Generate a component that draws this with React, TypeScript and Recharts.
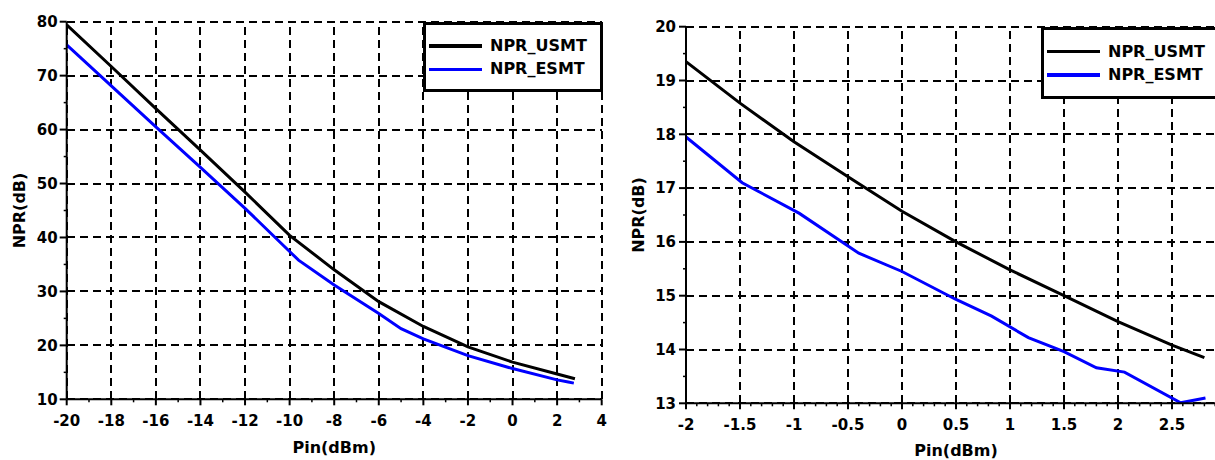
import React from 'react';
import { LineChart, Line, XAxis, YAxis, ReferenceLine, Legend, Label } from 'recharts';

// ---------- Left panel data ----------
const leftUsmtPin = [-20, -18, -16, -14, -12, -10, -8, -6, -4, -2, 0, 2, 2.8];
const leftUsmtNpr = [79.4, 71.7, 63.9, 56.2, 48.4, 40.4, 34.0, 28.1, 23.5, 19.7, 16.9, 14.7, 13.8];
const leftEsmtPin = [-20, -18, -16, -14, -12, -10, -9.6, -8, -6, -5, -4, -2, 0, 2, 2.5, 2.75];
const leftEsmtNpr = [75.7, 68.1, 60.5, 53.0, 45.4, 37.4, 35.8, 31.2, 25.9, 23.1, 21.2, 18.1, 15.7, 13.6, 13.2, 13.0];

// ---------- Right panel data ----------
const rightUsmtPin = [-2, -1.5, -1, -0.5, 0, 0.5, 1, 1.5, 2, 2.5, 2.8];
const rightUsmtNpr = [19.35, 18.58, 17.86, 17.21, 16.57, 16.0, 15.48, 15.0, 14.52, 14.08, 13.85];
const rightEsmtPin = [-2, -1.48, -0.95, -0.4, 0, 0.5, 0.83, 1.17, 1.5, 1.8, 2.06, 2.58, 2.81];
const rightEsmtNpr = [17.95, 17.1, 16.53, 15.79, 15.45, 14.93, 14.62, 14.22, 13.96, 13.66, 13.58, 13.01, 13.1];

// ---------- Ticks ----------
const leftXMajor = [-20, -18, -16, -14, -12, -10, -8, -6, -4, -2, 0, 2, 4];
const leftXMinor = [-19, -17, -15, -13, -11, -9, -7, -5, -3, -1, 1, 3];
const leftYMajor = [10, 20, 30, 40, 50, 60, 70, 80];
const leftYMinor = [15, 25, 35, 45, 55, 65, 75];

const rightXMajor = [-2, -1.5, -1, -0.5, 0, 0.5, 1, 1.5, 2, 2.5];
const rightXMinor = [
  -1.9, -1.8, -1.7, -1.6, -1.4, -1.3, -1.2, -1.1, -0.9, -0.8, -0.7, -0.6,
  -0.4, -0.3, -0.2, -0.1, 0.1, 0.2, 0.3, 0.4, 0.6, 0.7, 0.8, 0.9,
  1.1, 1.2, 1.3, 1.4, 1.6, 1.7, 1.8, 1.9, 2.1, 2.2, 2.3, 2.4, 2.6, 2.7, 2.8, 2.9,
];
const rightYMajor = [13, 14, 15, 16, 17, 18, 19, 20];
const rightYMinor = [13.5, 14.5, 15.5, 16.5, 17.5, 18.5, 19.5];

const SERIES_NAMES = ['NPR_USMT', 'NPR_ESMT'];
const SERIES_COLORS = ['#000000', '#0000ff'];
const X_LABEL = 'Pin(dBm)';
const Y_LABEL = 'NPR(dB)';

const FONT = '"DejaVu Sans", Verdana, sans-serif';

const toPoints = (xs: number[], ys: number[]) => xs.map((x, i) => ({ pin: x, npr: ys[i] }));

const isMajor = (v: number, majors: number[]) => majors.some((m) => Math.abs(m - v) < 1e-9);

const X_TICK_SIZE = 6;
const X_TICK_MARGIN = 10;

const XTick = (props: any) => {
  const { x, y, payload, majors } = props;
  const v = payload.value;
  const major = isMajor(v, majors);
  const axisY = y - X_TICK_SIZE - X_TICK_MARGIN;
  return (
    <g>
      <line x1={x} x2={x} y1={axisY} y2={axisY + (major ? 6 : 3)} stroke="#000" strokeWidth={major ? 2 : 1.5} />
      {major && (
        <text x={x} y={y} dy="0.71em" textAnchor="middle" fill="#000" fontSize={15} fontWeight="bold" fontFamily={FONT}>
          {String(v)}
        </text>
      )}
    </g>
  );
};

const Y_TICK_SIZE = 7;

const YTick = (props: any) => {
  const { x, y, payload, majors, margin } = props;
  const v = payload.value;
  const major = isMajor(v, majors);
  const axisX = x + Y_TICK_SIZE + margin;
  return (
    <g>
      <line x1={axisX} x2={axisX - (major ? 7 : 3)} y1={y} y2={y} stroke="#000" strokeWidth={major ? 2 : 1.5} />
      {major && (
        <text x={x} y={y} dy="0.355em" textAnchor="end" fill="#000" fontSize={15} fontWeight="bold" fontFamily={FONT}>
          {String(v)}
        </text>
      )}
    </g>
  );
};

const LegendBox = ({ payload, w, h, firstY, stepY }: any) => {
  const items = [...(payload || [])].sort(
    (a: any, b: any) => SERIES_NAMES.indexOf(a.value) - SERIES_NAMES.indexOf(b.value)
  );
  return (
    <div
      style={{
        width: w,
        height: h,
        boxSizing: 'border-box',
        border: '3px solid #000',
        background: '#fff',
        position: 'relative',
      }}
    >
      {items.map((e: any, i: number) => (
        <div
          key={i}
          style={{
            position: 'absolute',
            left: 2.5,
            top: firstY + i * stepY - 10,
            height: 20,
            display: 'flex',
            alignItems: 'center',
            whiteSpace: 'nowrap',
          }}
        >
          <div style={{ width: 53.5, height: 3.5, background: e.color }} />
          <span style={{ marginLeft: 8, fontFamily: FONT, fontWeight: 'bold', fontSize: 16, color: '#000', lineHeight: '20px' }}>
            {e.value}
          </span>
        </div>
      ))}
    </div>
  );
};

type PanelProps = {
  margin: { top: number; right: number; bottom: number; left: number };
  yAxisWidth: number;
  xAxisHeight: number;
  xDomain: [number, number];
  yDomain: [number, number];
  xMajor: number[];
  xMinor: number[];
  yMajor: number[];
  yMinor: number[];
  usmt: { pin: number; npr: number }[];
  esmt: { pin: number; npr: number }[];
  legend: { left: number; top: number; width: number; height: number; firstY: number; stepY: number };
  yTickMargin: number;
  xLabelOffset: number;
  yLabelX: number;
};

const gridStyle = {
  stroke: '#000',
  strokeWidth: 2,
  strokeDasharray: '8 5',
  shapeRendering: 'crispEdges',
};

const Panel = (p: PanelProps) => {
  const xTicks = [...p.xMajor, ...p.xMinor].sort((a, b) => a - b);
  const yTicks = [...p.yMajor, ...p.yMinor].sort((a, b) => a - b);
  return (
    <LineChart width={620} height={460} margin={p.margin}>
      {p.xMajor.map((v) => (
        <ReferenceLine key={`gx${v}`} x={v} {...(gridStyle as any)} zIndex={-100} />
      ))}
      {p.yMajor.map((v) => (
        <ReferenceLine key={`gy${v}`} y={v} {...(gridStyle as any)} zIndex={-100} />
      ))}
      <XAxis
        type="number"
        dataKey="pin"
        domain={p.xDomain}
        ticks={xTicks}
        interval={0}
        allowDataOverflow
        height={p.xAxisHeight}
        axisLine={{ stroke: '#000', strokeWidth: 2 }}
        tickLine={{ stroke: 'none' }}
        tickSize={X_TICK_SIZE}
        tickMargin={X_TICK_MARGIN}
        tick={(tp: any) => <XTick {...tp} majors={p.xMajor} />}
      >
        <Label
          value={X_LABEL}
          position="insideBottom"
          offset={p.xLabelOffset}
          fill="#000"
          fontSize={16}
          fontWeight="bold"
          fontFamily={FONT}
        />
      </XAxis>
      <YAxis
        type="number"
        domain={p.yDomain}
        ticks={yTicks}
        interval={0}
        allowDataOverflow
        width={p.yAxisWidth}
        axisLine={{ stroke: '#000', strokeWidth: 2 }}
        tickLine={{ stroke: 'none' }}
        tickSize={Y_TICK_SIZE}
        tickMargin={p.yTickMargin}
        tick={(tp: any) => <YTick {...tp} majors={p.yMajor} margin={p.yTickMargin} />}
      >
        <Label
          content={(lp: any) => {
            const vb = lp.viewBox || { x: 0, y: 0, width: 0, height: 0 };
            const cy = vb.y + vb.height / 2;
            const cx = p.yLabelX;
            return (
              <text
                x={cx}
                y={cy}
                transform={`rotate(-90, ${cx}, ${cy})`}
                textAnchor="middle"
                fill="#000"
                fontSize={16}
                fontWeight="bold"
                fontFamily={FONT}
              >
                {Y_LABEL}
              </text>
            );
          }}
        />
      </YAxis>
      <Legend
        layout="vertical"
        align="center"
        verticalAlign="middle"
        wrapperStyle={{ left: p.legend.left, top: p.legend.top, width: p.legend.width, height: p.legend.height }}
        content={(lp: any) => (
          <LegendBox
            payload={lp.payload}
            w={p.legend.width}
            h={p.legend.height}
            firstY={p.legend.firstY}
            stepY={p.legend.stepY}
          />
        )}
      />
      <Line
        data={p.usmt}
        dataKey="npr"
        name={SERIES_NAMES[0]}
        stroke={SERIES_COLORS[0]}
        strokeWidth={3}
        dot={false}
        activeDot={false}
        type="linear"
        isAnimationActive={false}
      />
      <Line
        data={p.esmt}
        dataKey="npr"
        name={SERIES_NAMES[1]}
        stroke={SERIES_COLORS[1]}
        strokeWidth={3}
        dot={false}
        activeDot={false}
        type="linear"
        isAnimationActive={false}
      />
    </LineChart>
  );
};

export default function App() {
  return (
    <div
      style={{
        position: 'absolute',
        left: 0,
        top: 0,
        width: 1215,
        height: 460,
        overflow: 'hidden',
        background: '#fff',
        fontFamily: FONT,
      }}
    >
      <div style={{ position: 'absolute', left: 0, top: 0 }}>
        <Panel
          margin={{ top: 21.7, right: 18.3, bottom: 0, left: 0 }}
          yAxisWidth={66.7}
          xAxisHeight={60.7}
          xDomain={[-20, 4]}
          yDomain={[10, 80]}
          xMajor={leftXMajor}
          xMinor={leftXMinor}
          yMajor={leftYMajor}
          yMinor={leftYMinor}
          usmt={toPoints(leftUsmtPin, leftUsmtNpr)}
          esmt={toPoints(leftEsmtPin, leftEsmtNpr)}
          legend={{ left: 423, top: 22, width: 180, height: 70, firstY: 21, stepY: 23.3 }}
          yTickMargin={2}
          xLabelOffset={7}
          yLabelX={25}
        />
      </div>
      <div style={{ position: 'absolute', left: 620, top: 0 }}>
        <Panel
          margin={{ top: 26.7, right: 14, bottom: 0, left: 0 }}
          yAxisWidth={66}
          xAxisHeight={56.7}
          xDomain={[-2, 3]}
          yDomain={[13, 20]}
          xMajor={rightXMajor}
          xMinor={rightXMinor}
          yMajor={rightYMajor}
          yMinor={rightYMinor}
          usmt={toPoints(rightUsmtPin, rightUsmtNpr)}
          esmt={toPoints(rightEsmtPin, rightEsmtNpr)}
          legend={{ left: 421, top: 26.7, width: 220, height: 72, firstY: 22, stepY: 23.3 }}
          yTickMargin={3}
          xLabelOffset={4}
          yLabelX={24}
        />
      </div>
    </div>
  );
}
